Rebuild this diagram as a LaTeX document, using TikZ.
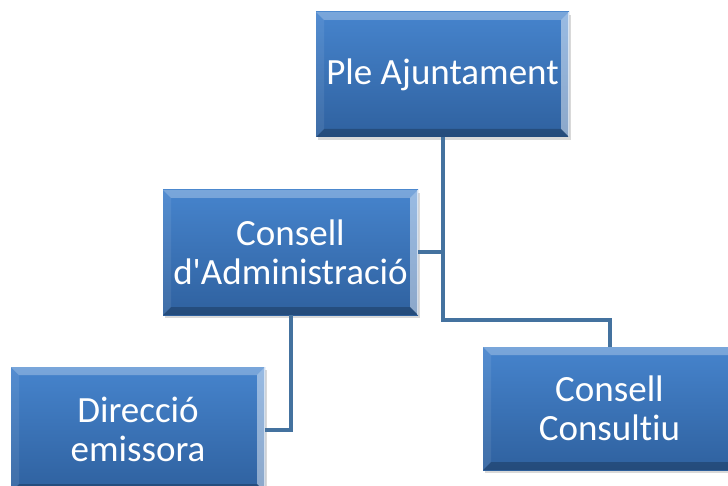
\documentclass[tikz,border=0pt]{standalone}
\usepackage{fontspec}
\setmainfont{Carlito}[Ligatures=NoCommon]
\usetikzlibrary{calc,shadows}
\definecolor{boxtop}{HTML}{4684CD}
\definecolor{boxbot}{HTML}{2F619F}
\definecolor{linkcol}{HTML}{44729F}
\def\bv{8pt}
\tikzset{
  orgbox/.style={top color=boxtop, bottom color=boxbot, minimum width=253pt, minimum height=125pt,
    inner sep=2pt, text=white, align=center, font=\fontsize{37}{39}\selectfont,
    drop shadow={opacity=0.3, shadow xshift=2pt, shadow yshift=-3pt},
    path picture={
      \path (path picture bounding box.north west) coordinate (bnw)
            (path picture bounding box.north east) coordinate (bne)
            (path picture bounding box.south east) coordinate (bse)
            (path picture bounding box.south west) coordinate (bsw);
      \fill[white, opacity=.28] (bnw) -- (bne) -- ($(bne)+(-\bv,-\bv)$) -- ($(bnw)+(\bv,-\bv)$) -- cycle;
      \fill[white, opacity=.45] (bne) -- (bse) -- ($(bse)+(-\bv,\bv)$) -- ($(bne)+(-\bv,-\bv)$) -- cycle;
      \fill[black, opacity=.22] (bse) -- (bsw) -- ($(bsw)+(\bv,\bv)$) -- ($(bse)+(-\bv,\bv)$) -- cycle;
      \fill[white, opacity=.08] (bsw) -- (bnw) -- ($(bnw)+(\bv,-\bv)$) -- ($(bsw)+(\bv,\bv)$) -- cycle;
      \draw[white, opacity=.6, line width=1.5pt] (bne) -- (bse);
    }},
  link/.style={draw=linkcol, line width=4pt}
}

\begin{document}
\begin{tikzpicture}[x=1pt, y=-1pt]
			%%%%% START %%%%%
			\useasboundingbox (0, 0) rectangle (728, 486);
			
			\node[orgbox] (ple) at (442.5, 74.5) {Ple Ajuntament};
			\node[orgbox, minimum width=255pt] (admin) at (290.5, 252.5) {Consell\\d\textquotesingle Administració};
			\node[orgbox, minimum width=254pt] (direccio) at (138, 429.5) {Direcció\\emissora};
			\node[orgbox, minimum height=123pt] (consultiu) at (609.5, 408.5) {Consell\\Consultiu};
			
			\coordinate (split) at (442.5, 320);
			
			\draw[link] (ple) -- (split) -| (consultiu);
			\draw[link] (admin.east) -- (admin.east -| ple.south);
			\draw[link] (admin) |- (direccio);
			
			%%%%% END %%%%%
\end{tikzpicture}
\end{document}
